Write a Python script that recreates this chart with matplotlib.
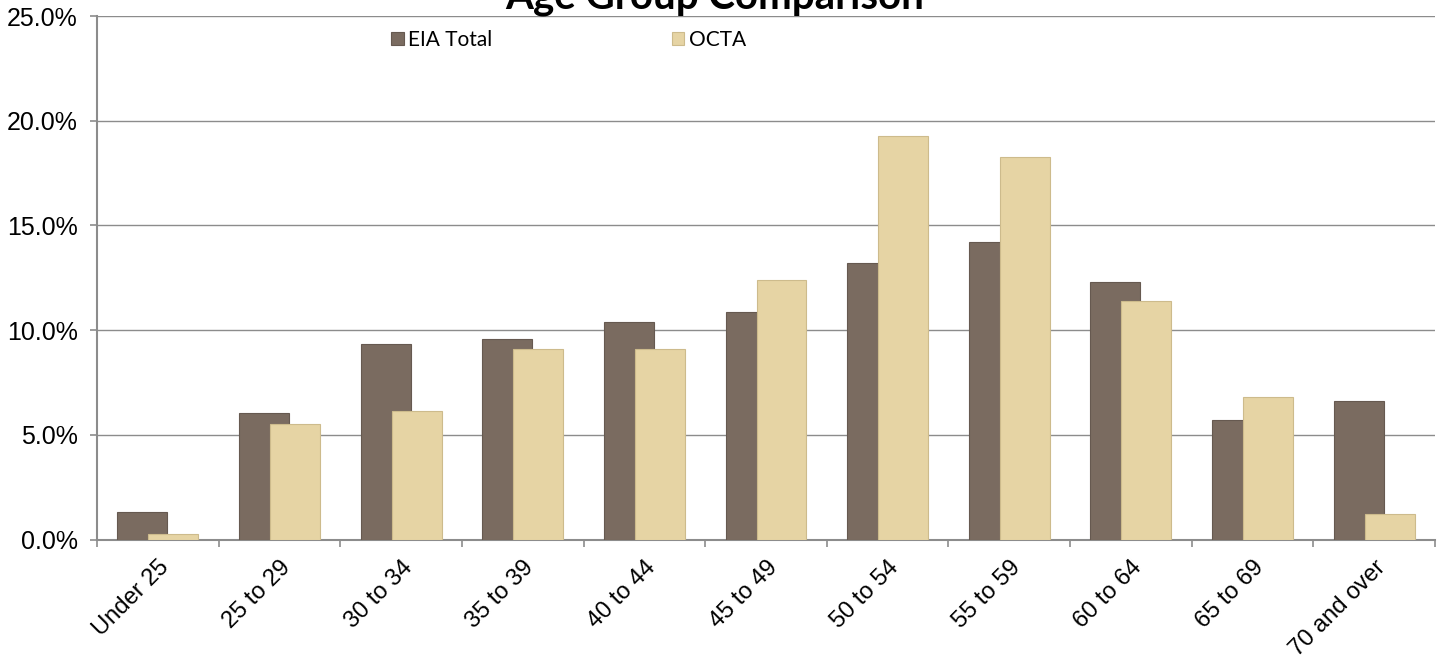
import matplotlib.pyplot as plt
import matplotlib.transforms as mtransforms
import numpy as np
from matplotlib.ticker import FuncFormatter

# Share of each age group, in percent
age_groups = ["Under 25", "25 to 29", "30 to 34", "35 to 39", "40 to 44", "45 to 49",
              "50 to 54", "55 to 59", "60 to 64", "65 to 69", "70 and over"]
eia_total = [1.33, 6.03, 9.32, 9.57, 10.39, 10.85, 13.22, 14.22, 12.28, 5.71, 6.61]
octa = [0.25, 5.50, 6.14, 9.10, 9.10, 12.40, 19.28, 18.25, 11.39, 6.79, 1.22]

EIA_COLOR = "#7a6b60"
OCTA_COLOR = "#e6d4a4"
AXIS_GRAY = "#8c8c8c"

fig = plt.figure(figsize=(14.39, 6.59), dpi=100)
ax = fig.add_axes([97 / 1439, 1 - 539.5 / 659, (1435 - 97) / 1439, (539.5 - 16) / 659])

x = np.arange(len(age_groups))
width = 0.41
offset = 0.1275

ax.bar(x - offset, eia_total, width, color=EIA_COLOR, edgecolor="#665950",
       linewidth=0.8, label="EIA Total", zorder=3)
ax.bar(x + offset, octa, width, color=OCTA_COLOR, edgecolor="#cdbb8c",
       linewidth=0.8, label="OCTA", zorder=4)

ax.set_xlim(-0.5, len(age_groups) - 0.5)
ax.set_ylim(0, 25)
ax.set_yticks(np.arange(0, 25.1, 5))
ax.yaxis.set_major_formatter(FuncFormatter(lambda v, _: f"{v:.1f}%"))
ax.yaxis.grid(True, color=AXIS_GRAY, linewidth=1.0, zorder=0)
ax.set_axisbelow(True)

# category boundaries carry the x ticks, labels sit on the centers
ax.set_xticks(np.arange(-0.5, len(age_groups)))
ax.set_xticklabels([])
ax.set_xticks(x, minor=True)
ax.set_xticklabels(age_groups, minor=True, rotation=45, ha="right",
                   rotation_mode="anchor", fontsize=17, family="Liberation Sans")
shift = mtransforms.ScaledTranslation(-5 / 100, 0, fig.dpi_scale_trans)
for lbl in ax.get_xticklabels(minor=True):
    lbl.set_transform(lbl.get_transform() + shift)
ax.tick_params(axis="x", which="major", length=5, color=AXIS_GRAY, width=1.2)
ax.tick_params(axis="x", which="minor", length=0, pad=12)
ax.tick_params(axis="y", length=5, color=AXIS_GRAY, width=1.2, pad=9,
               labelsize=18)
for lbl in ax.get_yticklabels():
    lbl.set_family("Liberation Sans")

for side in ("top", "right"):
    ax.spines[side].set_visible(False)
for side in ("left", "bottom"):
    ax.spines[side].set_color(AXIS_GRAY)
    ax.spines[side].set_linewidth(1.5)

fig.text(505 / 1439, 1 - 8 / 659, "Age Group Comparison", ha="left", va="baseline",
         fontsize=29, fontweight="bold", family="Lato")

fig.legend(loc="center left", bbox_to_anchor=(391 / 1439, 1 - 40 / 659),
           ncol=2, frameon=False, borderpad=0, borderaxespad=0,
           handlelength=0.62, handleheight=0.62, handletextpad=0.2,
           columnspacing=8.6, prop={"family": "Lato", "size": 15})

fig.savefig("out.png", dpi=100, facecolor="white")
